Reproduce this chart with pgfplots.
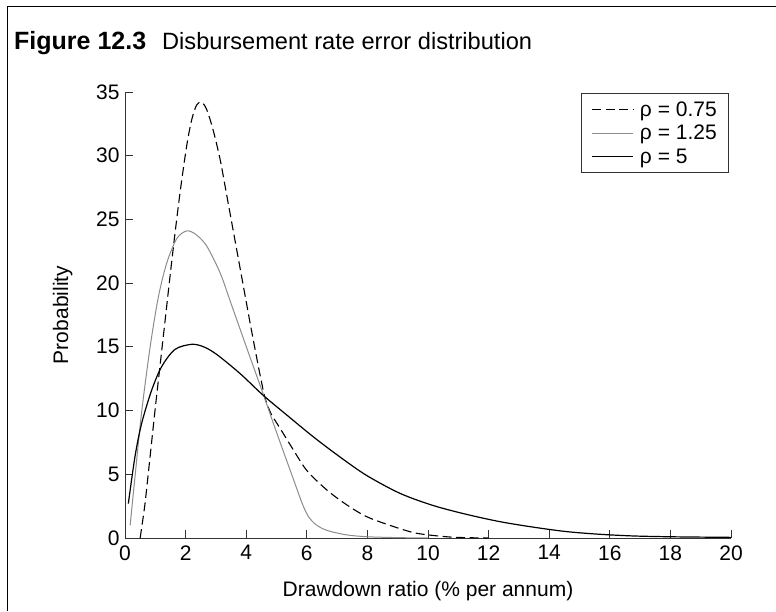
\documentclass[border=0pt]{standalone}
\usepackage{fontspec}
\setmainfont{Liberation Sans}
\usepackage{pgfplots}
\pgfplotsset{compat=1.18}
\begin{document}
\begin{tikzpicture}[font=\fontsize{21}{25}\selectfont]
\path[use as bounding box] (0pt,0pt) rectangle (776pt,611pt);
\draw[line width=1pt] (7pt,0pt) -- (7pt,604pt) -- (776pt,604pt);
\node[anchor=base west, font=\fontsize{25}{29}\selectfont\bfseries, inner sep=0pt] at (14pt,561pt) {Figure 12.3};
\node[anchor=base west, font=\fontsize{23.6}{28}\selectfont, inner sep=0pt] at (162pt,561pt) {Disbursement rate error distribution};
\begin{axis}[
 at={(125pt,73pt)}, anchor=south west,
 scale only axis, width=606pt, height=446pt,
 xmin=0, xmax=20, ymin=0, ymax=35,
 axis x line*=bottom, axis y line*=left,
 axis line style={-, black!80, line width=0.9pt},
 tick style={black!80, line width=0.9pt},
 tick align=inside, major tick length=8pt,
 xtick={0,2,...,20}, ytick={0,5,...,35},
 /pgf/number format/assume math mode=true,
 tick label style={font=\fontsize{21}{25}\selectfont},
 xticklabel style={yshift=-4pt},
 yticklabel style={xshift=-2pt},
 xlabel={Drawdown ratio (\% per annum)},
 ylabel={Probability},
 every axis x label/.style={at={(axis description cs:0.5,-0.132)},anchor=base},
 every axis y label/.style={at={(axis description cs:-0.103,0.5)},rotate=90,anchor=center},
 legend style={at={(0.997,0.998)}, anchor=north east, draw=black!80, line width=0.9pt, inner xsep=10pt, inner ysep=6pt, column sep=4pt, row sep=3.5pt, nodes={inner sep=2pt}, font=\fontsize{21}{25}\selectfont},
 legend cell align=left,
 legend image code/.code={\draw[#1] (0pt,0pt) -- (41pt,0pt);},
]
\addplot[black, line width=1.1pt, dash pattern=on 9pt off 4.5pt, smooth] coordinates {
(0.50,0) (0.65,2.5) (0.77,5.1) (0.99,10.0) (1.16,13.6) (1.32,17.0) (1.48,20.4)
(1.64,23.7) (1.80,26.8) (1.95,29.4) (2.08,31.4) (2.22,33.0) (2.37,34.0) (2.53,34.2)
(2.70,33.6) (2.91,32.0) (3.14,29.7) (3.35,27.0) (3.55,24.4) (3.75,21.8) (3.95,19.2)
(4.15,16.6) (4.35,14.1) (4.50,12.3) (4.62,11.0) (4.80,9.85) (5.00,9.05) (5.12,8.6) (5.56,6.9)
(6.00,5.3) (6.66,3.77) (7.32,2.6) (7.98,1.67) (8.86,0.9) (9.63,0.37) (10.6,0.1)
(11.2,0.03) (12.0,0)
};
\addlegendentry{ρ = 0.75}
\addplot[black!45, line width=1pt, smooth] coordinates {
(0.17,1.0) (0.33,4.8) (0.55,9.9) (0.83,15.0) (1.10,18.9) (1.38,21.6) (1.71,23.5)
(2.04,24.1) (2.35,23.8) (2.70,22.9) (3.14,20.8) (3.50,18.4) (4.02,14.9) (4.56,11.3)
(5.00,8.3) (5.56,4.6) (5.85,2.7) (6.05,1.7) (6.30,1.05) (6.66,0.6) (7.30,0.25) (7.98,0.1)
(9.0,0.03) (10.0,0)
};
\addlegendentry{ρ = 1.25}
\addplot[black, line width=1.2pt, smooth] coordinates {
(0.11,2.7) (0.33,6.4) (0.55,9.0) (0.88,11.6) (1.21,13.45) (1.65,14.8) (2.2,15.2)
(2.6,15.0) (3.03,14.4) (3.8,12.9) (4.56,11.2) (5.34,9.65) (6.21,7.95) (7.1,6.35)
(7.98,4.9) (9.08,3.5) (10.17,2.55) (11.28,1.85) (12.38,1.28) (13.48,0.85)
(14.58,0.5) (15.68,0.29) (16.78,0.16) (17.9,0.1) (19.0,0.07) (20.0,0.05)
};
\addlegendentry{ρ = 5}
\end{axis}
\end{tikzpicture}
\end{document}
